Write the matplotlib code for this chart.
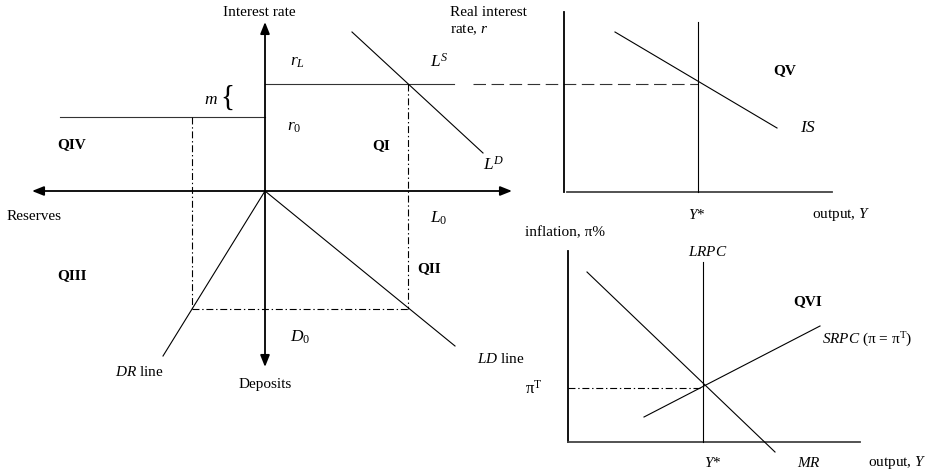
import matplotlib
matplotlib.use('Agg')
import matplotlib.pyplot as plt

plt.rcParams['font.family'] = ['Liberation Serif', 'DejaVu Serif']
plt.rcParams['mathtext.fontset'] = 'custom'
plt.rcParams['mathtext.rm'] = 'Liberation Serif'
plt.rcParams['mathtext.it'] = 'Liberation Serif:italic'
plt.rcParams['mathtext.bf'] = 'Liberation Serif:bold'
plt.rcParams['lines.scale_dashes'] = False

W, H = 928, 477

# ---- Left four-quadrant diagram (pixel coordinates of the diagram) ----
origin = (265, 192)
hor_axis_x = [32, 512]          # Reserves <-> loans axis
ver_axis_y = [23, 368]          # Interest rate <-> Deposits axis
r_L = 85
r_0 = 118
r0_line_x = [60, 265]
rL_line_x = [265, 454]
LD_curve_x = [352, 483]          # loan demand L^D
LD_curve_y = [33, 154]
L_0 = 408
R_0 = 192
D_0 = 310
DR_line_x = [265, 163]
DR_line_y = [192, 357]
LDline_x = [265, 455]
LDline_y = [192, 347]

# ---- QV panel ----
qv_yaxis_x = 564
qv_yaxis_y = [13, 193]
qv_xaxis_y = 193
qv_xaxis_x = [567, 832]
Ystar_x = 698
Ystar_top = 23
IS_x = [615, 777]
IS_y = [33, 129]
r_dash_x = [473, 698]

# ---- QVI panel ----
qvi_yaxis_x = 568
qvi_yaxis_y = [252, 443]
qvi_xaxis_y = 443
qvi_xaxis_x = [568, 860]
LRPC_x = 703
LRPC_top = 263
MR_x = [587, 775]
MR_y = [273, 453]
SRPC_x = [644, 820]
SRPC_y = [418, 327]
pi_T = 389

fig = plt.figure(figsize=(W / 100, H / 100), dpi=100)
ax = fig.add_axes([0, 0, 1, 1])
ax.set_xlim(0, W)
ax.set_ylim(H, 0)
ax.axis('off')

AX_LW = 1.3
LW = 0.8
DASHDOT = (0, (5, 2, 1, 2))
DASH = (0, (9, 4))

def arrow(p0, p1, style):
    ax.annotate('', xy=p1, xytext=p0,
                arrowprops=dict(arrowstyle=style + ',head_length=0.7,head_width=0.28',
                                lw=AX_LW, color='black', mutation_scale=10,
                                shrinkA=0, shrinkB=0))

# axes of the four-quadrant diagram
arrow((hor_axis_x[0], origin[1]), (hor_axis_x[1], origin[1]), '<|-|>')
arrow((origin[0], ver_axis_y[1]), (origin[0], ver_axis_y[0]), '<|-|>')

# rate lines
ax.plot(r0_line_x, [r_0, r_0], color='#333333', lw=LW)
ax.plot(rL_line_x, [r_L, r_L], color='#333333', lw=LW)
ax.plot(r_dash_x, [r_L, r_L], color='#333333', lw=LW, linestyle=DASH)
ax.plot(LD_curve_x, LD_curve_y, color='black', lw=LW)
ax.plot(DR_line_x, DR_line_y, color='black', lw=LW)
ax.plot(LDline_x, LDline_y, color='black', lw=LW)

# dash-dot guides
ax.plot([L_0, L_0], [r_L, D_0], color='black', lw=LW, linestyle=DASHDOT)
ax.plot([R_0, R_0], [r_0, D_0], color='black', lw=LW, linestyle=DASHDOT)
ax.plot([R_0, L_0], [D_0, D_0], color='black', lw=LW, linestyle=DASHDOT)

# QV panel
ax.plot([qv_yaxis_x, qv_yaxis_x], qv_yaxis_y, color='black', lw=AX_LW)
ax.plot(qv_xaxis_x, [qv_xaxis_y, qv_xaxis_y], color='#444444', lw=AX_LW)
ax.plot([Ystar_x, Ystar_x], [Ystar_top, qv_xaxis_y], color='black', lw=LW)
ax.plot(IS_x, IS_y, color='black', lw=LW)

# QVI panel
ax.plot([qvi_yaxis_x, qvi_yaxis_x], qvi_yaxis_y, color='black', lw=AX_LW)
ax.plot(qvi_xaxis_x, [qvi_xaxis_y, qvi_xaxis_y], color='#444444', lw=AX_LW)
ax.plot([LRPC_x, LRPC_x], [LRPC_top, qvi_xaxis_y], color='black', lw=LW)
ax.plot(MR_x, MR_y, color='black', lw=LW)
ax.plot(SRPC_x, SRPC_y, color='black', lw=LW)
ax.plot([qvi_yaxis_x, LRPC_x], [pi_T, pi_T], color='black', lw=LW, linestyle=DASHDOT)

FS = 11
MFS = 12.5

def txt(x, y, s, ha='left', **kw):
    kw.setdefault('fontsize', FS)
    ax.text(x, y, s, ha=ha, va='center', **kw)

txt(223, 12, 'Interest rate')
txt(7, 217, 'Reserves')
txt(57, 145, 'QIV', fontweight='bold')
txt(57, 276, 'QIII', fontweight='bold')
txt(372, 146, 'QI', fontweight='bold')
txt(417, 269, 'QII', fontweight='bold')
txt(218, 100, '$m$', ha='right', fontsize=MFS)
txt(220, 98, '{', fontsize=21)
txt(290, 62, '$r_L$', fontsize=MFS)
txt(287, 127, '$r_{\\mathit{0}}$', fontsize=MFS)
txt(430, 62, '$L^S$', fontsize=MFS)
txt(483, 165, '$L^D$', fontsize=MFS)
txt(430, 218, '$L_{\\mathit{0}}$', fontsize=MFS)
txt(290, 337, '$D_{\\mathit{0}}$', fontsize=MFS)
txt(115, 372, '$DR$ line')
txt(265, 385, 'Deposits', ha='center')
txt(477, 359, '$LD$ line')
txt(450, 12, 'Real interest')
txt(450, 30, 'rate, $r$')
txt(773, 71, 'QV', fontweight='bold')
txt(800, 128, '$IS$', fontsize=MFS)
txt(697, 215, '$Y$*', ha='center')
txt(812, 215, 'output, $Y$')
txt(525, 233, 'inflation, π%')
txt(708, 252, '$LRPC$', ha='center')
txt(793, 302, 'QVI', fontweight='bold')
txt(822, 340, '$SRPC$ (π = π$^\\mathrm{T}$)')
txt(525, 389, 'π$^\\mathrm{T}$', fontsize=12)
txt(713, 463, '$Y$*', ha='center')
txt(797, 463, '$MR$')
txt(868, 463, 'output, $Y$')

fig.savefig('out.png', dpi=100)
